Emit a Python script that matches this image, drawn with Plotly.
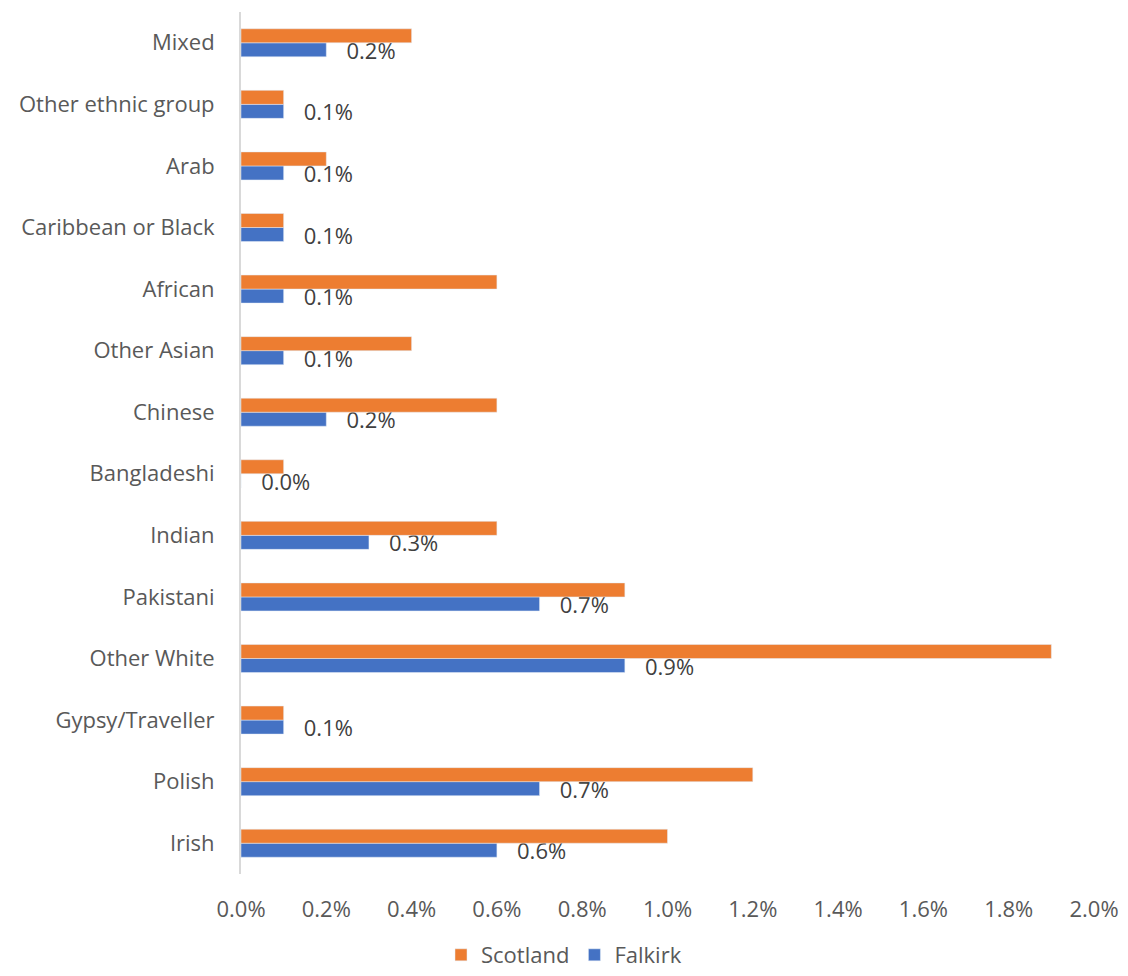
import plotly.graph_objects as go

categories = ["Irish", "Polish", "Gypsy/Traveller", "Other White", "Pakistani", "Indian",
              "Bangladeshi", "Chinese", "Other Asian", "African", "Caribbean or Black",
              "Arab", "Other ethnic group", "Mixed"]
scotland = [1.0, 1.2, 0.1, 1.9, 0.9, 0.6, 0.1, 0.6, 0.4, 0.6, 0.1, 0.2, 0.1, 0.4]
falkirk = [0.6, 0.7, 0.1, 0.9, 0.7, 0.3, 0.0, 0.2, 0.1, 0.1, 0.1, 0.1, 0.1, 0.2]
x_ticks = [0.0, 0.2, 0.4, 0.6, 0.8, 1.0, 1.2, 1.4, 1.6, 1.8, 2.0]

font_family = "Open Sans, Liberation Sans, sans-serif"
grey = "#595959"

fig = go.Figure()
# falkirk first so it sits below scotland within each group
fig.add_trace(go.Bar(
    y=categories, x=falkirk, name="Falkirk", orientation="h",
    marker=dict(color="#4472C4"),
    texttemplate="   %{x:.1f}%", textposition="outside", constraintext="none",
    textfont=dict(size=22, color="#404040", family=font_family),
    cliponaxis=False,
))
fig.add_trace(go.Bar(
    y=categories, x=scotland, name="Scotland", orientation="h",
    marker=dict(color="#ED7D31"),
))

fig.update_layout(
    width=1128, height=976,
    barmode="group", bargap=0.545, bargroupgap=0,
    plot_bgcolor="white", paper_bgcolor="white",
    font=dict(family=font_family, size=22, color=grey),
    margin=dict(l=241, r=34, t=12, b=102, autoexpand=False),
    legend=dict(orientation="h", traceorder="reversed", x=0.5, xanchor="center",
                xref="container", yref="container", y=0.0, yanchor="bottom",
                font=dict(size=22, color=grey), itemwidth=30, tracegroupgap=0),
    showlegend=True,
)
fig.update_xaxes(range=[0, 2.0], tickvals=x_ticks,
                 ticktext=[f"{v:.1f}%" for v in x_ticks],
                 showgrid=False, zeroline=False, showline=False, ticks="",
                 ticklabelstandoff=20, automargin=False)
fig.update_yaxes(showline=True, linecolor="#D9D9D9", linewidth=2, showgrid=False,
                 ticks="", ticklabelstandoff=20, automargin=False)

# drop the default page margin so the figure sits at the window's corner
fig.write_html("out.html", config={"displayModeBar": False},
               post_script="document.body.style.margin='0';")
